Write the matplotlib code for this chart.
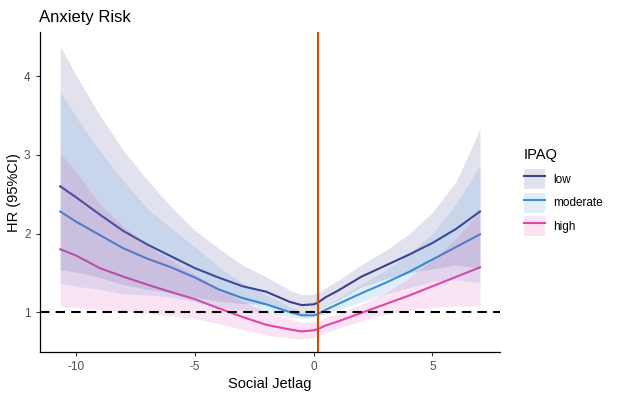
import matplotlib
matplotlib.use("Agg")
import matplotlib.pyplot as plt
from matplotlib.patches import Patch
from matplotlib.lines import Line2D

plt.rcParams['font.family'] = ['Liberation Sans', 'DejaVu Sans']
plt.rcParams['axes.unicode_minus'] = False

# social jetlag grid (hours)
sjl = [-10.67, -10, -9, -8, -7, -6, -5, -4, -3, -2, -1, -0.5, 0, 0.17, 0.5, 1, 2, 3, 4, 5, 6, 7]

# low IPAQ
low_hr = [2.60, 2.46, 2.24, 2.03, 1.86, 1.71, 1.56, 1.44, 1.33, 1.26, 1.13, 1.09, 1.10, 1.12, 1.19, 1.27,
          1.45, 1.59, 1.73, 1.88, 2.06, 2.28]
low_hi = [4.38, 4.01, 3.50, 3.05, 2.68, 2.34, 2.04, 1.81, 1.60, 1.45, 1.28, 1.22, 1.23, 1.24, 1.31, 1.40,
          1.60, 1.78, 1.99, 2.27, 2.66, 3.33]
low_lo = [1.54, 1.51, 1.44, 1.35, 1.29, 1.25, 1.19, 1.14, 1.11, 1.10, 1.00, 0.97, 0.99, 1.01, 1.08, 1.15,
          1.32, 1.42, 1.50, 1.55, 1.60, 1.56]

# moderate IPAQ
mod_hr = [2.28, 2.15, 1.98, 1.81, 1.68, 1.57, 1.44, 1.29, 1.18, 1.10, 1.00, 0.96, 0.96, 0.975, 1.03, 1.10,
          1.24, 1.37, 1.51, 1.67, 1.83, 1.99]
mod_hi = [3.80, 3.48, 3.05, 2.66, 2.32, 2.07, 1.83, 1.57, 1.37, 1.22, 1.07, 1.00, 0.99, 1.01, 1.08, 1.17,
          1.36, 1.53, 1.74, 2.00, 2.38, 2.87]
mod_lo = [1.37, 1.33, 1.29, 1.23, 1.22, 1.19, 1.13, 1.06, 1.02, 0.99, 0.935, 0.92, 0.93, 0.94, 0.98, 1.03,
          1.13, 1.23, 1.31, 1.39, 1.41, 1.38]

# high IPAQ
high_hr = [1.80, 1.72, 1.56, 1.45, 1.35, 1.255, 1.165, 1.05, 0.94, 0.84, 0.78, 0.755, 0.77, 0.785, 0.83, 0.88,
           0.99, 1.10, 1.21, 1.33, 1.45, 1.57]
high_hi = [3.02, 2.79, 2.37, 2.09, 1.85, 1.66, 1.48, 1.30, 1.14, 1.00, 0.91, 0.87, 0.88, 0.89, 0.93, 0.98,
           1.10, 1.24, 1.43, 1.66, 1.94, 2.28]
high_lo = [1.07, 1.06, 1.03, 1.01, 0.985, 0.95, 0.92, 0.85, 0.78, 0.71, 0.67, 0.66, 0.675, 0.695, 0.74, 0.79,
           0.89, 0.97, 1.025, 1.06, 1.08, 1.08]

groups = ['low', 'moderate', 'high']
colors = ['#3F3F8F', '#3A90D5', '#E146AC']
ref_x = 0.17

fig = plt.figure(figsize=(6.18, 3.97), dpi=100)
ax = fig.add_axes([0.064, 0.1126, 0.745, 0.8064])

series = [(low_hr, low_lo, low_hi), (mod_hr, mod_lo, mod_hi), (high_hr, high_lo, high_hi)]
for (hr, lo, hi), c in zip(series, colors):
    ax.plot(sjl, hr, color=c, lw=1.5, zorder=2)
for (hr, lo, hi), c in zip(series, colors):
    ax.fill_between(sjl, lo, hi, color=c, alpha=0.15, lw=0, zorder=3)

ax.axhline(1, color='black', lw=1.5, dashes=(4.5, 3), zorder=5)
ax.axvline(ref_x, color='#D94801', lw=1.5, zorder=6)

ax.set_xlim(-11.54, 7.84)
ax.set_ylim(0.49, 4.56)
ax.set_xticks([-10, -5, 0, 5])
ax.set_yticks([1, 2, 3, 4])
for s in ['top', 'right']:
    ax.spines[s].set_visible(False)
for s in ['left', 'bottom']:
    ax.spines[s].set_linewidth(0.9)
ax.tick_params(length=3, width=0.8, color='#333333', labelcolor='#4D4D4D', labelsize=8.5)

ax.set_xlabel('Social Jetlag', fontsize=10.5, labelpad=3)
ax.set_ylabel('HR (95%CI)', fontsize=10.5, labelpad=2)
ax.set_title('Anxiety Risk', fontsize=12, loc='left', x=-0.002, pad=7)

handles = [(Patch(facecolor=c, alpha=0.15, lw=0), Line2D([], [], color=c, lw=1.5)) for c in colors]
leg = ax.legend(handles, groups, title='IPAQ', loc='upper left', bbox_to_anchor=(0.848, 0.626),
                bbox_transform=fig.transFigure, frameon=False, fontsize=8.5, title_fontsize=10.5,
                handlelength=1.8, handleheight=2.2, labelspacing=0.3, handletextpad=0.7,
                alignment='left', borderaxespad=0, borderpad=0)
leg._legend_box.sep = 5

fig.savefig('out.png', dpi=100)
